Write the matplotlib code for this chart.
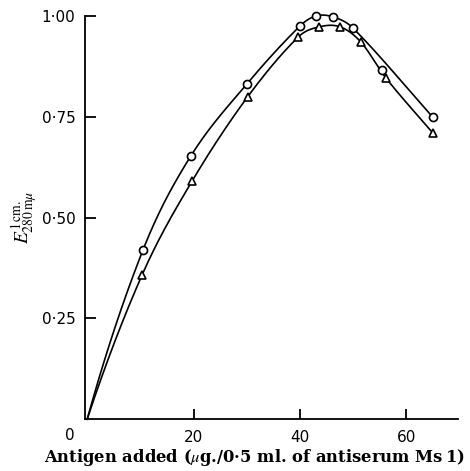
import numpy as np
import matplotlib.pyplot as plt

plt.rcParams['mathtext.fontset'] = 'stix'

# circles (upper curve)
x_circ = [10.5, 19.5, 30.0, 40.0, 43.0, 46.2, 50.0, 55.5, 65.0]
y_circ = [0.42, 0.653, 0.831, 0.975, 1.0, 0.998, 0.970, 0.866, 0.749]
# triangles (lower curve)
x_tri = [10.3, 19.7, 30.2, 39.7, 43.6, 47.6, 51.5, 56.2, 65.0]
y_tri = [0.357, 0.59, 0.80, 0.948, 0.973, 0.973, 0.935, 0.846, 0.71]

xticks = [20, 40, 60]
yticks = [0.25, 0.50, 0.75, 1.00]
ytick_labels = ['0·25', '0·50', '0·75', '1·00']


def smooth(xs, ys, n=40):
    # cubic hermite curve through the points, starting at the origin
    x = np.r_[0.0, xs]
    y = np.r_[0.0, ys]
    h = np.diff(x)
    d = np.diff(y) / h
    m = np.empty_like(x)
    m[1:-1] = (y[2:] - y[:-2]) / (x[2:] - x[:-2])
    m[0] = ((2 * h[0] + h[1]) * d[0] - h[0] * d[1]) / (h[0] + h[1])
    m[-1] = d[-1]
    outx, outy = [], []
    t = np.linspace(0, 1, n)
    h00 = 2 * t ** 3 - 3 * t ** 2 + 1
    h10 = t ** 3 - 2 * t ** 2 + t
    h01 = -2 * t ** 3 + 3 * t ** 2
    h11 = t ** 3 - t ** 2
    for i in range(len(h)):
        outx.extend(x[i] + t * h[i])
        outy.extend(h00 * y[i] + h10 * h[i] * m[i] + h01 * y[i + 1] + h11 * h[i] * m[i + 1])
    return outx, outy


fig = plt.figure(figsize=(4.70, 4.71), dpi=100)
ax = fig.add_axes([0.181, 0.110, 0.793, 0.856])

# the drawn curve for circles passes above the 55.5 point
cx = [x for x in x_circ if x != 55.5]
cy = [y for x, y in zip(x_circ, y_circ) if x != 55.5]
sx, sy = smooth(cx, cy)
ax.plot(sx, sy, color='black', lw=1.2, clip_on=False)
sx, sy = smooth(x_tri, y_tri)
ax.plot(sx, sy, color='black', lw=1.2, clip_on=False)

ax.plot(x_circ, y_circ, 'o', ms=5.8, mfc='white', mec='black', mew=1.2, clip_on=False)
ax.plot(x_tri, y_tri, '^', ms=6.2, mfc='white', mec='black', mew=1.2, clip_on=False)

ax.set_xlim(-0.4, 69.7)
ax.set_ylim(0, 1.0)
ax.spines['top'].set_visible(False)
ax.spines['right'].set_visible(False)
for s in ('left', 'bottom'):
    ax.spines[s].set_linewidth(1.3)

ax.set_xticks(xticks)
ax.set_yticks(yticks)
ax.set_yticklabels(ytick_labels)
ax.tick_params(direction='in', length=8, width=1.3, labelsize=11, pad=7)
ax.tick_params(axis='x', length=7, pad=8)
ax.text(-3.2, -0.04, '0', fontsize=11, ha='center', va='center')

ax.set_xlabel('Antigen added ($\\mu$g./0·5 ml. of antiserum Ms\u20091)',
              fontsize=11.8, fontweight='bold', family='DejaVu Serif')
ax.xaxis.set_label_coords(0.456, -0.07)
ax.set_ylabel(r'$E^{\mathrm{1\,cm.}}_{\mathrm{280\,m}\mu}$', fontsize=14, labelpad=1)

fig.savefig('out.png', dpi=100)
